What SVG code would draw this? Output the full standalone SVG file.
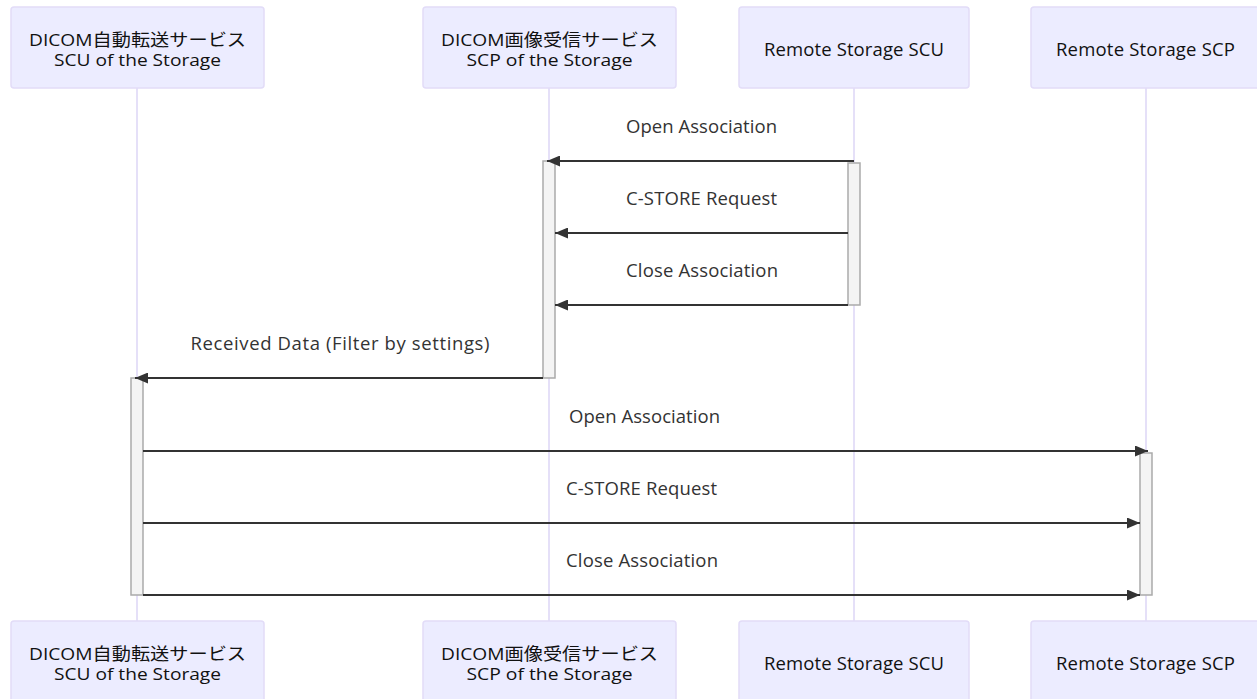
<svg xmlns="http://www.w3.org/2000/svg" width="1257" height="699" viewBox="0 0 1257 699">
  <style>
    .actor { fill: #ececff; stroke: #e2dcf8; stroke-width: 1.5; }
    .atext { font-family: "Open Sans", "Noto Sans CJK JP", sans-serif; font-size: 18.5px; fill: #111; text-anchor: middle; }
    .atext.two { font-size: 17px; }
    .life { stroke: #ddd6f6; stroke-width: 1.5; fill: none; }
    .act { fill: #f4f4f4; stroke: #aaa; stroke-width: 1.5; }
    .msg { stroke: #333; stroke-width: 2; fill: none; }
    .mtext { font-family: "Open Sans", sans-serif; font-size: 18.5px; fill: #333; text-anchor: middle; }
  </style>
  <defs>
    <marker id="arrowhead" viewBox="0 0 13 11" refX="13" refY="5.5" markerWidth="13" markerHeight="11" markerUnits="userSpaceOnUse" orient="auto">
      <path d="M0,0 L13,5.5 L0,11 z" fill="#333"/>
    </marker>
  </defs>

  <!-- lifelines -->
  <g id="lifelines">
    <line class="life" x1="137" y1="88" x2="137" y2="621"/>
    <line class="life" x1="549" y1="88" x2="549" y2="621"/>
    <line class="life" x1="854" y1="88" x2="854" y2="621"/>
    <line class="life" x1="1146" y1="88" x2="1146" y2="621"/>
  </g>

  <!-- participants, top row -->
  <g id="scu-top">
    <rect class="actor" x="11" y="7" width="253" height="81" rx="3"/>
    <text class="atext two" x="137.5" y="45.5" textLength="217" lengthAdjust="spacingAndGlyphs">DICOM自動転送サービス</text>
    <text class="atext two" x="137.5" y="66" textLength="167" lengthAdjust="spacingAndGlyphs">SCU of the Storage</text>
  </g>
  <g id="scp-top">
    <rect class="actor" x="423" y="7" width="253" height="81" rx="3"/>
    <text class="atext two" x="549.5" y="45.5" textLength="217" lengthAdjust="spacingAndGlyphs">DICOM画像受信サービス</text>
    <text class="atext two" x="549.5" y="66" textLength="166" lengthAdjust="spacingAndGlyphs">SCP of the Storage</text>
  </g>
  <g id="remote-scu-top">
    <rect class="actor" x="739" y="7" width="230" height="81" rx="3"/>
    <text class="atext" x="854" y="56" textLength="180">Remote Storage SCU</text>
  </g>
  <g id="remote-scp-top">
    <rect class="actor" x="1031" y="7" width="230" height="81" rx="3"/>
    <text class="atext" x="1145.5" y="56" textLength="179">Remote Storage SCP</text>
  </g>

  <!-- activation bars -->
  <g id="activations">
    <rect class="act" x="543" y="161" width="12" height="217"/>
    <rect class="act" x="848" y="163" width="12" height="142"/>
    <rect class="act" x="131" y="378" width="12" height="217"/>
    <rect class="act" x="1140" y="453" width="12" height="142"/>
  </g>

  <!-- messages -->
  <g id="connectors">
    <line class="msg" x1="854" y1="161" x2="547" y2="161" marker-end="url(#arrowhead)"/>
    <line class="msg" x1="848" y1="233" x2="555" y2="233" marker-end="url(#arrowhead)"/>
    <line class="msg" x1="848" y1="305" x2="555" y2="305" marker-end="url(#arrowhead)"/>
    <line class="msg" x1="543" y1="378" x2="135" y2="378" marker-end="url(#arrowhead)"/>
    <line class="msg" x1="143" y1="451" x2="1148" y2="451" marker-end="url(#arrowhead)"/>
    <line class="msg" x1="143" y1="523" x2="1140" y2="523" marker-end="url(#arrowhead)"/>
    <line class="msg" x1="143" y1="595" x2="1140" y2="595" marker-end="url(#arrowhead)"/>
  </g>
  <g id="labels">
    <text class="mtext" x="701.5" y="133" textLength="151">Open Association</text>
    <text class="mtext" x="701.5" y="205" textLength="151">C-STORE Request</text>
    <text class="mtext" x="702" y="277" textLength="152">Close Association</text>
    <text class="mtext" x="340" y="350" textLength="299">Received Data (Filter by settings)</text>
    <text class="mtext" x="644.5" y="423" textLength="151">Open Association</text>
    <text class="mtext" x="641.5" y="495" textLength="151">C-STORE Request</text>
    <text class="mtext" x="642" y="567" textLength="152">Close Association</text>
  </g>

  <!-- participants, bottom row -->
  <g id="scu-bottom">
    <rect class="actor" x="11" y="621" width="253" height="81" rx="3"/>
    <text class="atext two" x="137.5" y="659.5" textLength="217" lengthAdjust="spacingAndGlyphs">DICOM自動転送サービス</text>
    <text class="atext two" x="137.5" y="680" textLength="167" lengthAdjust="spacingAndGlyphs">SCU of the Storage</text>
  </g>
  <g id="scp-bottom">
    <rect class="actor" x="423" y="621" width="253" height="81" rx="3"/>
    <text class="atext two" x="549.5" y="659.5" textLength="217" lengthAdjust="spacingAndGlyphs">DICOM画像受信サービス</text>
    <text class="atext two" x="549.5" y="680" textLength="166" lengthAdjust="spacingAndGlyphs">SCP of the Storage</text>
  </g>
  <g id="remote-scu-bottom">
    <rect class="actor" x="739" y="621" width="230" height="81" rx="3"/>
    <text class="atext" x="854" y="670" textLength="180">Remote Storage SCU</text>
  </g>
  <g id="remote-scp-bottom">
    <rect class="actor" x="1031" y="621" width="230" height="81" rx="3"/>
    <text class="atext" x="1145.5" y="670" textLength="179">Remote Storage SCP</text>
  </g>
</svg>
